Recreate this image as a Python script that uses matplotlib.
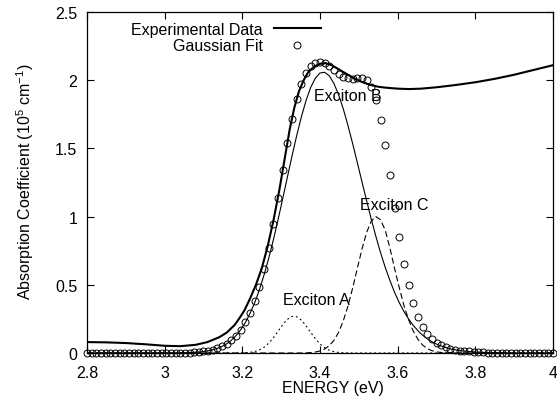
import numpy as np
import matplotlib
matplotlib.use("Agg")
import matplotlib.pyplot as plt
from matplotlib.ticker import FormatStrFormatter

plt.rcParams['font.family'] = ['Liberation Sans', 'DejaVu Sans']
plt.rcParams['mathtext.fontset'] = 'custom'
plt.rcParams['mathtext.rm'] = 'Liberation Sans'
plt.rcParams['mathtext.it'] = 'Liberation Sans:italic'

FS = 11.5

# measured absorption spectrum (10^5 cm^-1) vs photon energy (eV)
exp_energy = [2.80, 2.85, 2.90, 2.95, 3.00, 3.04, 3.08, 3.11, 3.14, 3.16,
              3.18, 3.19, 3.197, 3.205, 3.22, 3.235, 3.25, 3.265, 3.28, 3.295,
              3.31, 3.322, 3.334, 3.346, 3.358, 3.37, 3.385, 3.40, 3.415, 3.43,
              3.445, 3.46, 3.475, 3.49, 3.51, 3.53, 3.55, 3.57, 3.60, 3.63,
              3.66, 3.70, 3.75, 3.80, 3.85, 3.90, 3.95, 4.00]
exp_alpha = [0.080, 0.078, 0.073, 0.064, 0.053, 0.050, 0.060, 0.080, 0.115, 0.150,
             0.205, 0.245, 0.275, 0.310, 0.400, 0.500, 0.620, 0.780, 0.970, 1.190,
             1.440, 1.640, 1.800, 1.920, 2.000, 2.060, 2.100, 2.120, 2.125, 2.110,
             2.085, 2.060, 2.035, 2.010, 1.985, 1.965, 1.952, 1.945, 1.938, 1.935,
             1.938, 1.948, 1.965, 1.985, 2.010, 2.040, 2.075, 2.110]

# gaussian components, 101 samples between 2.8 and 4.0 eV
fit_energy = np.linspace(2.8, 4.0, 101)
exciton_a = ([0.0] * 33 +
             [0.001, 0.002, 0.005, 0.011, 0.023, 0.042, 0.072, 0.112, 0.160, 0.208,
              0.247, 0.268, 0.266, 0.241, 0.200, 0.151, 0.105, 0.066, 0.038, 0.020,
              0.010, 0.004, 0.002, 0.001] +
             [0.0] * 44)
exciton_b = ([0.0] * 20 +
             [0.001, 0.002, 0.003, 0.005, 0.007, 0.011, 0.016, 0.024, 0.034, 0.049,
              0.068, 0.094, 0.128, 0.171, 0.225, 0.291, 0.370, 0.464, 0.573, 0.695,
              0.831, 0.977, 1.132, 1.289, 1.445, 1.594, 1.731, 1.850, 1.947, 2.015,
              2.053, 2.058, 2.032, 1.975, 1.893, 1.789, 1.668, 1.536, 1.397, 1.256,
              1.117, 0.981, 0.854, 0.735, 0.628, 0.532, 0.445, 0.370, 0.305, 0.250,
              0.203, 0.164, 0.131, 0.104, 0.083, 0.065, 0.051, 0.040, 0.030, 0.024,
              0.018, 0.014, 0.011, 0.008, 0.006, 0.005, 0.003, 0.002, 0.002, 0.001] +
             [0.0] * 11)
exciton_c = ([0.0] * 47 +
             [0.001, 0.003, 0.007, 0.015, 0.029, 0.054, 0.093, 0.152, 0.236, 0.344,
              0.475, 0.619, 0.761, 0.883, 0.967, 1.000, 0.976, 0.900, 0.770, 0.620,
              0.480, 0.350, 0.245, 0.162, 0.101, 0.059, 0.032, 0.017, 0.008, 0.004,
              0.002, 0.001] +
             [0.0] * 22)
fit_total = np.array(exciton_a) + np.array(exciton_b) + np.array(exciton_c)

fig = plt.figure(figsize=(5.57, 4.10), dpi=100)
ax = fig.add_axes([87 / 557, 56 / 410, 466 / 557, 341 / 410])

ax.plot(exp_energy, exp_alpha, color='black', lw=1.5, label='Experimental Data')
ax.plot(fit_energy, fit_total, 'o', ms=5, mfc='none', mec='black', mew=0.7,
        clip_on=False, zorder=4, label='Gaussian Fit')
ax.plot(fit_energy, exciton_a, color='black', lw=0.8, dashes=(1.6, 2.6))
ax.plot(fit_energy, exciton_b, color='black', lw=0.8)
ax.plot(fit_energy, exciton_c, color='black', lw=0.8, dashes=(5.4, 2.8))

ax.text(3.471, 1.89, 'Exciton B', ha='center', va='center', fontsize=FS)
ax.text(3.591, 1.09, 'Exciton C', ha='center', va='center', fontsize=FS)
ax.text(3.390, 0.39, 'Exciton A', ha='center', va='center', fontsize=FS)

ax.set_xlim(2.8, 4.0)
ax.set_ylim(0, 2.5)
ax.set_xticks([2.8, 3.0, 3.2, 3.4, 3.6, 3.8, 4.0])
ax.set_yticks([0, 0.5, 1.0, 1.5, 2.0, 2.5])
ax.xaxis.set_major_formatter(FormatStrFormatter('%g'))
ax.yaxis.set_major_formatter(FormatStrFormatter('%g'))
ax.tick_params(direction='in', top=True, right=True, length=5, width=0.8,
               labelsize=FS)
ax.tick_params(axis='x', pad=8.5)
ax.tick_params(axis='y', pad=7)
for s in ax.spines.values():
    s.set_linewidth(0.9)

ax.set_xlabel('ENERGY (eV)', fontsize=FS)
ax.set_ylabel('Absorption Coefficient (10$^5$ cm$^{-1}$)', fontsize=FS)
ax.xaxis.label.set_va('center')
ax.yaxis.label.set_va('center')
ax.xaxis.set_label_coords((333 - 87) / 466, (354 - 389) / 341)
ax.yaxis.set_label_coords((25 - 87) / 466, (354 - 182) / 341)

ax.legend(loc='upper right', bbox_to_anchor=((321 - 87) / 466, (354 - 23) / 341),
          frameon=False, markerfirst=False, borderpad=0, borderaxespad=0,
          handlelength=2.95, handletextpad=0.7, labelspacing=0.08, numpoints=1,
          fontsize=FS)

fig.savefig('out.png', dpi=100)
